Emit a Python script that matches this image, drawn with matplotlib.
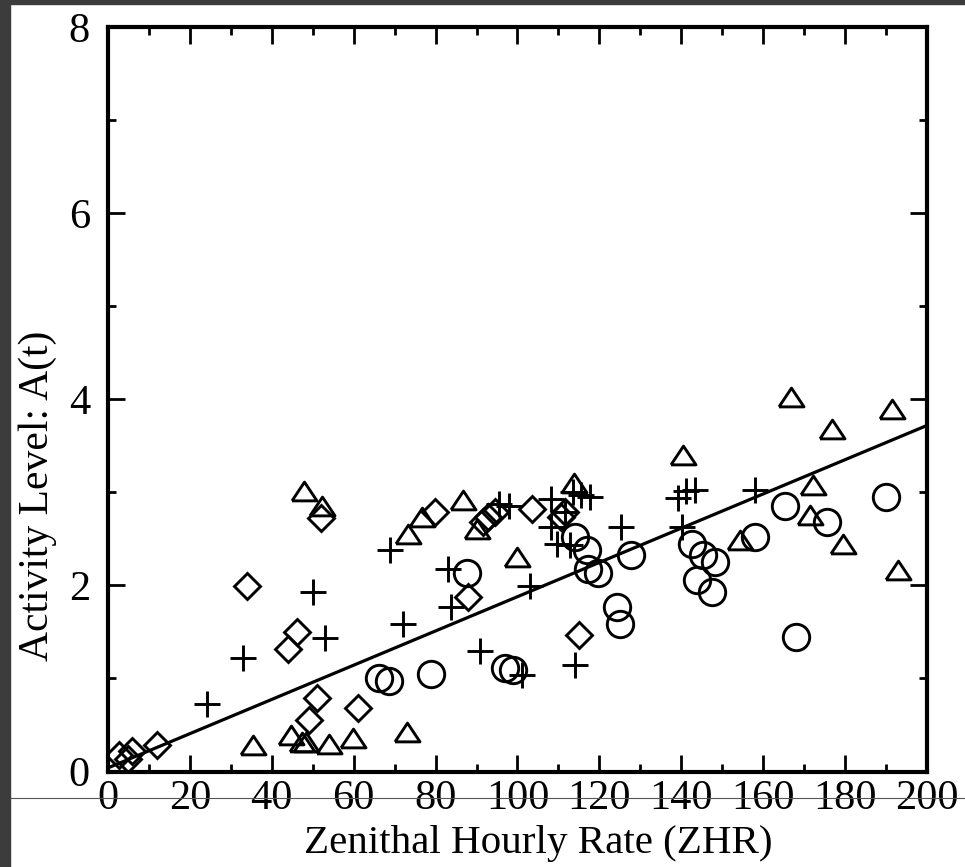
import numpy as np
import matplotlib
matplotlib.use("Agg")
import matplotlib.pyplot as plt
from matplotlib.lines import Line2D
from matplotlib.patches import Rectangle
from matplotlib.ticker import MultipleLocator

plt.rcParams['font.family'] = ['Liberation Serif', 'DejaVu Serif']

# ZHR vs activity level, one list per marker type
circle_x = [66.3, 68.7, 79.0, 87.6, 96.9, 99.0, 114.0, 116.9, 117.3, 119.7, 124.4, 125.0,
            127.6, 142.5, 145.2, 148.2, 143.8, 147.6, 158.0, 165.3, 168.0, 175.5, 190.0]
circle_y = [1.00, 0.97, 1.05, 2.13, 1.11, 1.09, 2.52, 2.38, 2.18, 2.13, 1.77, 1.59,
            2.33, 2.45, 2.33, 2.25, 2.06, 1.93, 2.52, 2.85, 1.45, 2.68, 2.95]

tri_x = [35.3, 44.6, 47.3, 48.3, 54.0, 59.8, 73.0, 47.9, 52.2, 73.3, 76.6, 86.8,
         90.0, 99.8, 113.7, 140.3, 154.3, 166.8, 171.4, 172.2, 176.7, 179.6, 191.5, 193.0]
tri_y = [0.28, 0.39, 0.32, 0.32, 0.30, 0.36, 0.42, 3.01, 2.85, 2.55, 2.74, 2.92,
         2.61, 2.31, 3.10, 3.40, 2.49, 4.03, 2.76, 3.08, 3.68, 2.45, 3.90, 2.17]

dia_x = [2.8, 5.0, 5.8, 11.9, 33.9, 44.0, 46.1, 49.2, 51.0, 51.9, 61.0, 79.9,
         88.0, 91.6, 92.9, 94.5, 103.5, 110.6, 111.6, 115.1]
dia_y = [0.18, 0.13, 0.22, 0.28, 1.99, 1.32, 1.50, 0.55, 0.79, 2.72, 0.68, 2.79,
         1.88, 2.68, 2.74, 2.79, 2.82, 2.74, 2.79, 1.47]

plus_x = [24.1, 33.0, 50.1, 53.0, 68.9, 72.0, 83.1, 83.7, 90.8, 95.5, 97.9, 101.0,
          103.0, 108.3, 108.3, 109.6, 111.6, 112.8, 113.5, 114.0, 115.5, 117.8, 125.2,
          139.3, 141.1, 143.3, 140.1, 158.0]
plus_y = [0.73, 1.22, 1.93, 1.44, 2.38, 1.59, 2.18, 1.77, 1.29, 2.87, 2.85, 1.04,
          1.99, 2.93, 2.63, 2.45, 2.79, 2.43, 3.00, 1.14, 2.97, 2.95, 2.63,
          2.94, 3.01, 3.02, 2.63, 3.02]

# linear fit
fit_a = 0.039
fit_b = 0.0184

fig = plt.figure(figsize=(9.65, 8.67), dpi=100)
ax = fig.add_axes([0.1119, 0.1101, 0.8487, 0.8587])

tri_marker = [(-1, -0.75), (1, -0.75), (0, 0.75), (-1, -0.75)]
style = dict(linestyle='none', mfc='none', mec='black', mew=2.1)
ax.plot(circle_x, circle_y, marker='o', ms=19, **style)
ax.plot(tri_x, tri_y, marker=tri_marker, ms=18, **style)
ax.plot(dia_x, dia_y, marker='D', ms=13.5, **style)
ax.plot(plus_x, plus_y, marker='+', ms=19, **style)

xf = np.array([0, 200])
ax.plot(xf, fit_a + fit_b * xf, color='black', lw=2.3)

ax.set_xlim(0, 200)
ax.set_ylim(0, 8)
ax.xaxis.set_major_locator(MultipleLocator(20))
ax.xaxis.set_minor_locator(MultipleLocator(10))
ax.yaxis.set_major_locator(MultipleLocator(2))
ax.yaxis.set_minor_locator(MultipleLocator(1))
ax.tick_params(which='both', direction='in', top=True, right=True, width=2, color='black')
ax.tick_params(which='major', length=12, labelsize=30.5)
ax.tick_params(which='minor', length=6)
ax.tick_params(axis='x', pad=6)
ax.tick_params(axis='y', pad=13)
for s in ax.spines.values():
    s.set_linewidth(3)

ax.set_xlabel('Zenithal Hourly Rate (ZHR)', fontsize=29.5)
ax.set_ylabel('Activity Level: A(t)', fontsize=30)
ax.xaxis.set_label_coords(0.525, -0.072)
ax.yaxis.set_label_coords(-0.062, 0.371)

# dark border and stray rule line from the source image
fig.patches.append(Rectangle((0, 0), 10 / 965, 1, transform=fig.transFigure,
                             color='#3c3c3c', zorder=10))
fig.patches.append(Rectangle((0, 1 - 4 / 867), 1, 4 / 867, transform=fig.transFigure,
                             color='#3c3c3c', zorder=10))
fig.add_artist(Line2D([10 / 965, 1], [1 - 797.5 / 867] * 2, transform=fig.transFigure,
                      color='#555555', lw=0.8))

fig.savefig('out.png', dpi=100)
